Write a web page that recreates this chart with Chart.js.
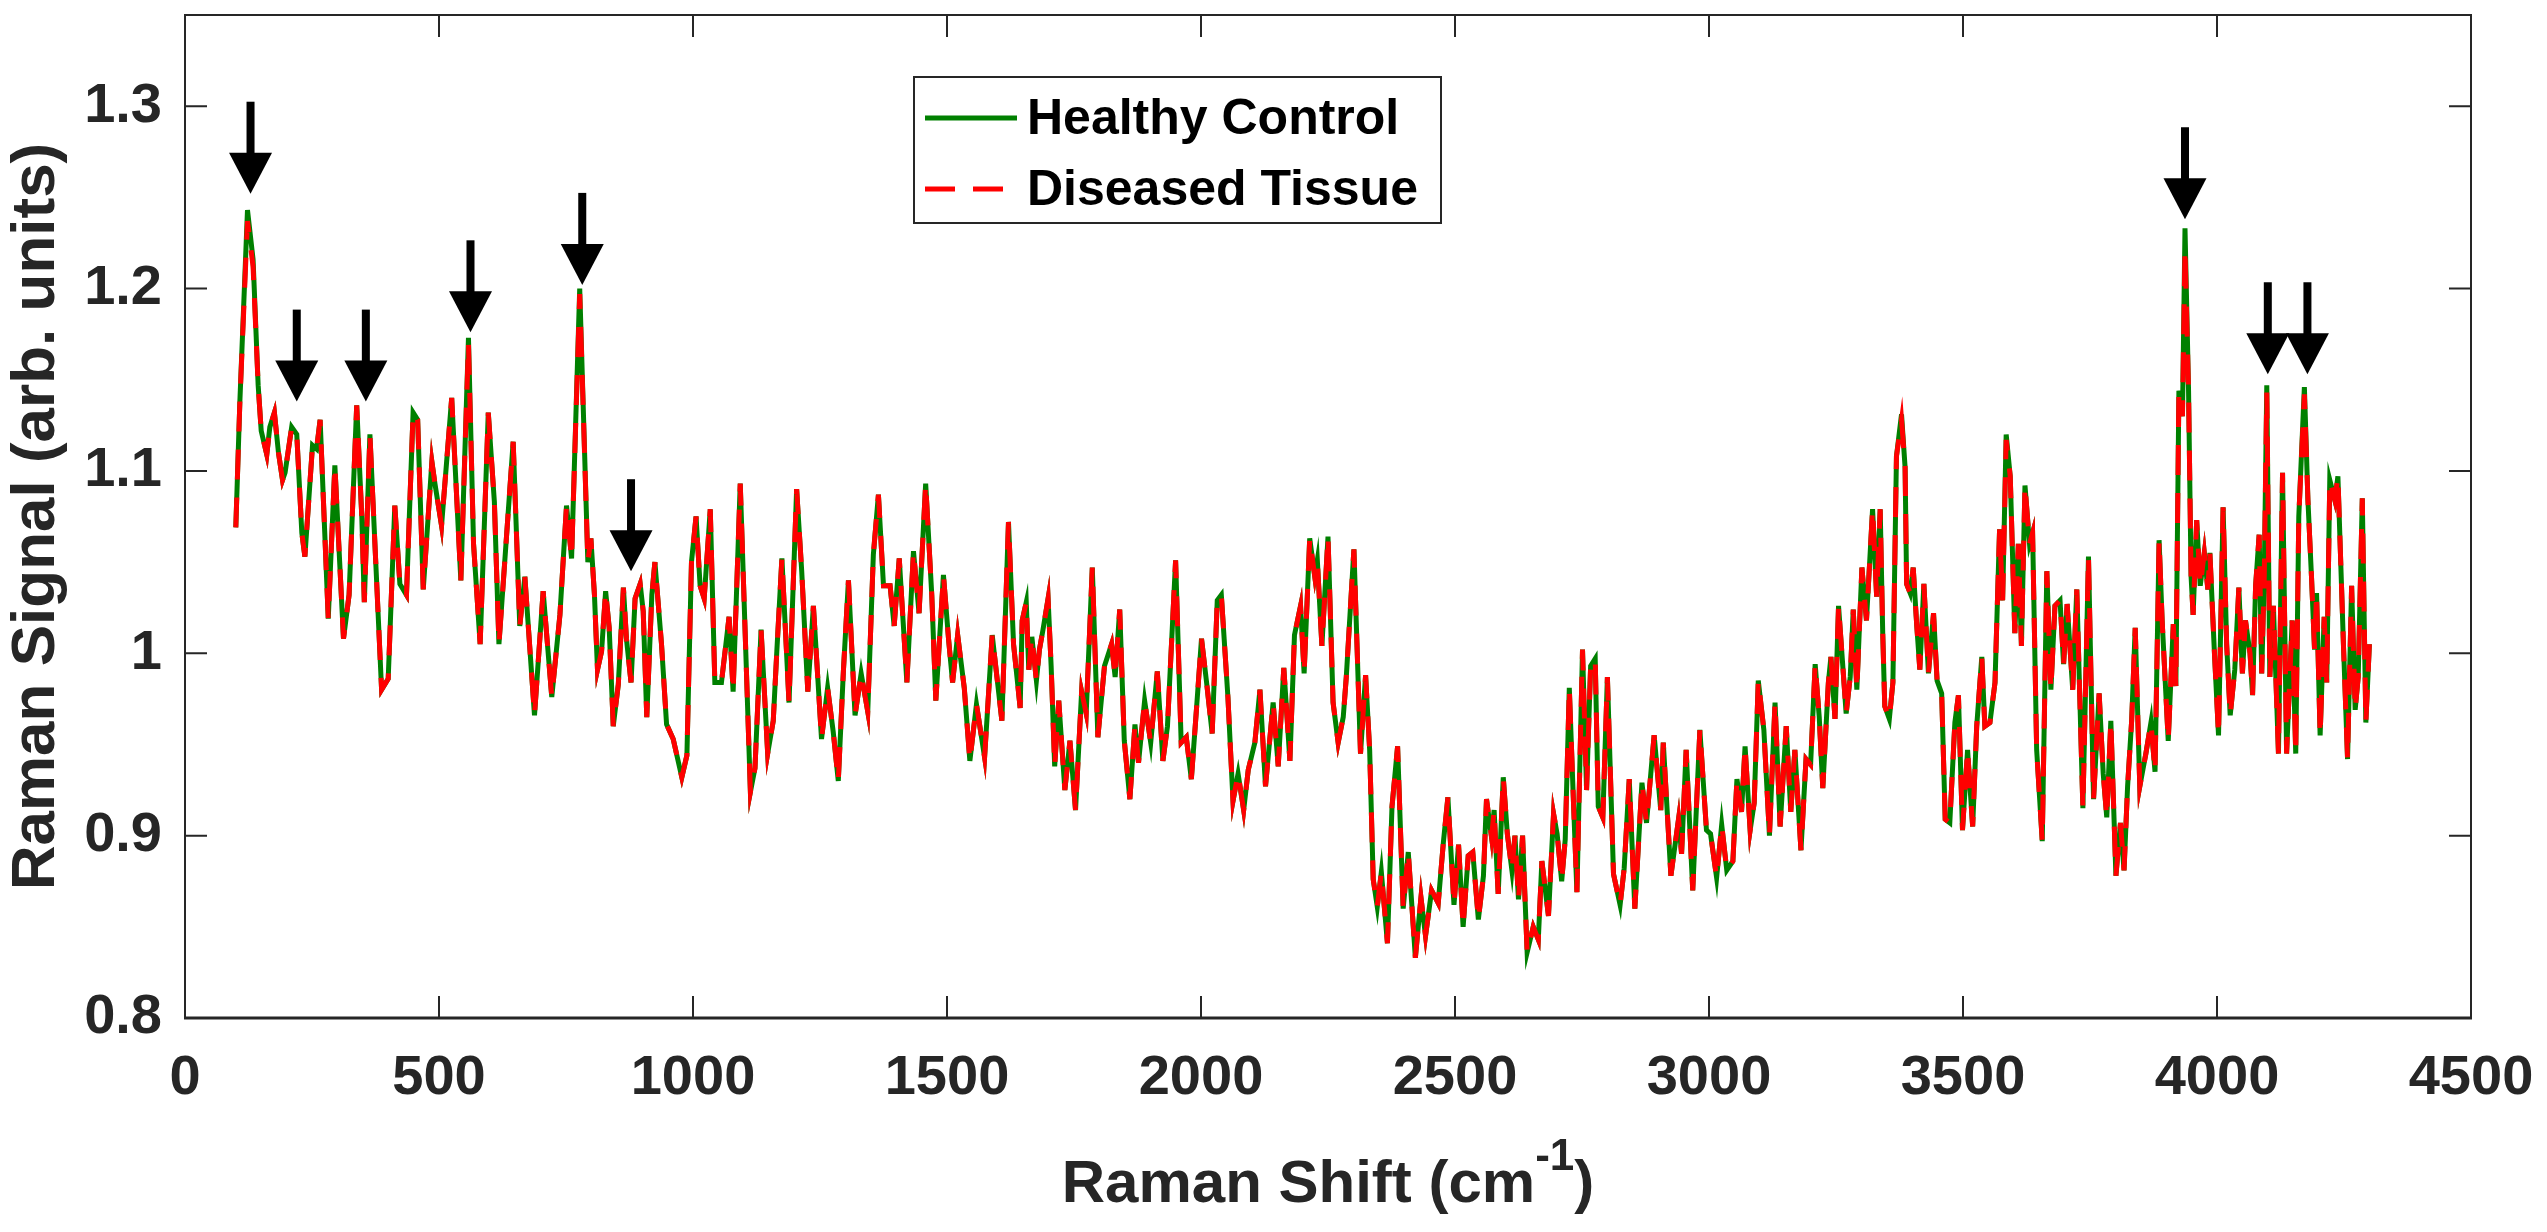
<!DOCTYPE html>
<html>
<head>
<meta charset="utf-8">
<title>Raman spectrum</title>
<script src="https://cdn.jsdelivr.net/npm/chart.js@4.4.1/dist/chart.umd.min.js"></script>
<style>
  html, body { margin: 0; padding: 0; background: #fff; }
  #ramanChart { display: block; }
</style>
</head>
<body>
<canvas id="ramanChart" width="2547" height="1232"></canvas>
<script>
// values
const ramanShift = [
  100, 108, 123, 134, 144, 150, 161, 167, 176, 184,
  192, 197, 210, 220, 230, 236, 251, 259, 266, 282,
  295, 312, 323, 338, 348, 353, 364, 387, 400, 413,
  423, 436, 449, 458, 469, 486, 492, 505, 525, 543,
  558, 568, 581, 597, 609, 618, 646, 659, 669, 688,
  705, 722, 738, 751, 761, 777, 793, 799, 806, 812,
  820, 828, 835, 843, 853, 863, 869, 878, 886, 896,
  902, 909, 919, 925, 938, 948, 961, 978, 988, 997,
  1006, 1014, 1022, 1034, 1043, 1056, 1071, 1079, 1093, 1102,
  1113, 1122, 1134, 1147, 1158, 1165, 1175, 1189, 1204, 1214,
  1226, 1237, 1253, 1265, 1276, 1286, 1296, 1306, 1319, 1331,
  1344, 1355, 1365, 1375, 1388, 1396, 1406, 1421, 1434, 1445,
  1458, 1470, 1478, 1493, 1503, 1511, 1521, 1534, 1545, 1558,
  1574, 1589, 1608, 1621, 1631, 1644, 1648, 1656, 1661, 1667,
  1676, 1682, 1689, 1699, 1705, 1712, 1720, 1732, 1742, 1753,
  1765, 1774, 1786, 1797, 1810, 1824, 1831, 1840, 1849, 1860,
  1870, 1877, 1889, 1901, 1914, 1925, 1934, 1950, 1961, 1971,
  1981, 1991, 2001, 2011, 2022, 2032, 2040, 2053, 2063, 2073,
  2084, 2093, 2106, 2116, 2127, 2142, 2152, 2163, 2175, 2184,
  2196, 2203, 2214, 2224, 2229, 2238, 2250, 2260, 2270, 2280,
  2286, 2301, 2314, 2324, 2332, 2339, 2347, 2355, 2367, 2376,
  2387, 2398, 2408, 2422, 2433, 2442, 2454, 2467, 2477, 2486,
  2498, 2507, 2516, 2526, 2535, 2546, 2556, 2562, 2572, 2577,
  2585, 2595, 2603, 2612, 2618, 2625, 2633, 2642, 2654, 2664,
  2671, 2684, 2694, 2701, 2710, 2717, 2725, 2733, 2740, 2751,
  2759, 2767, 2776, 2782, 2791, 2800, 2812, 2825, 2833, 2843,
  2854, 2868, 2877, 2892, 2905, 2910, 2925, 2940, 2946, 2955,
  2968, 2982, 2995, 3003, 3015, 3025, 3035, 3047, 3055, 3064,
  3071, 3081, 3089, 3097, 3108, 3119, 3130, 3140, 3152, 3161,
  3169, 3181, 3191, 3200, 3209, 3217, 3224, 3235, 3240, 3248,
  3255, 3270, 3278, 3284, 3291, 3301, 3310, 3322, 3330, 3337,
  3342, 3346, 3355, 3362, 3369, 3379, 3386, 3389, 3396, 3402,
  3409, 3415, 3423, 3432, 3442, 3449, 3458, 3465, 3474, 3484,
  3491, 3499, 3509, 3519, 3527, 3537, 3543, 3553, 3563, 3572,
  3578, 3585, 3593, 3602, 3609, 3615, 3622, 3631, 3637, 3645,
  3656, 3665, 3673, 3681, 3691, 3698, 3705, 3716, 3724, 3736,
  3747, 3757, 3768, 3776, 3783, 3791, 3801, 3810, 3817, 3824,
  3832, 3839, 3848, 3860, 3870, 3878, 3886, 3892, 3904, 3914,
  3919, 3925, 3932, 3937, 3944, 3949, 3953, 3960, 3967, 3975,
  3982, 3986, 3995, 4003, 4012, 4019, 4026, 4035, 4043, 4050,
  4056, 4065, 4070, 4076, 4083, 4088, 4093, 4098, 4104, 4111,
  4121, 4129, 4137, 4148, 4155, 4161, 4172, 4179, 4186, 4192,
  4196, 4203, 4211, 4216, 4222, 4232, 4238, 4249, 4257, 4265,
  4272, 4278, 4286, 4293, 4300
];

const healthyControl = [
  1.069, 1.138, 1.243, 1.216, 1.147, 1.122, 1.109, 1.124, 1.132, 1.110,
  1.095, 1.099, 1.124, 1.120, 1.066, 1.053, 1.114, 1.112, 1.128, 1.019,
  1.103, 1.008, 1.032, 1.136, 1.075, 1.028, 1.120, 0.980, 0.986, 1.081,
  1.038, 1.032, 1.132, 1.128, 1.035, 1.105, 1.093, 1.070, 1.140, 1.040,
  1.173, 1.060, 1.005, 1.132, 1.083, 1.005, 1.116, 1.015, 1.042, 0.966,
  1.034, 0.976, 1.021, 1.081, 1.052, 1.200, 1.050, 1.063, 1.032, 0.991,
  1.001, 1.034, 1.014, 0.960, 0.983, 1.036, 1.008, 0.984, 1.030, 1.038,
  1.023, 0.965, 1.032, 1.050, 1.005, 0.961, 0.953, 0.932, 0.944, 1.050,
  1.075, 1.037, 1.030, 1.079, 0.984, 0.984, 1.020, 0.979, 1.093, 1.017,
  0.924, 0.937, 1.013, 0.945, 0.963, 1.001, 1.052, 0.973, 1.090, 1.045,
  0.979, 1.026, 0.953, 0.981, 0.957, 0.930, 0.990, 1.040, 0.966, 0.989,
  0.968, 1.054, 1.087, 1.037, 1.037, 1.015, 1.052, 0.984, 1.056, 1.022,
  1.093, 1.032, 0.974, 1.043, 1.008, 0.984, 1.010, 0.981, 0.941, 0.972,
  0.943, 1.010, 0.963, 1.072, 1.005, 0.970, 1.018, 1.028, 0.991, 1.009,
  0.985, 1.002, 1.013, 1.030, 0.993, 0.938, 0.974, 0.925, 0.952, 0.914,
  0.979, 0.967, 1.047, 0.954, 0.993, 1.005, 0.987, 1.024, 0.952, 0.920,
  0.961, 0.940, 0.974, 0.951, 0.990, 0.941, 0.960, 1.051, 0.951, 0.954,
  0.931, 0.969, 1.008, 0.984, 0.956, 1.029, 1.032, 0.976, 0.919, 0.934,
  0.914, 0.936, 0.951, 0.980, 0.927, 0.973, 0.938, 0.992, 0.941, 1.010,
  1.026, 0.989, 1.063, 1.042, 1.051, 1.004, 1.064, 0.973, 0.951, 0.965,
  0.987, 1.057, 0.945, 0.988, 0.947, 0.876, 0.861, 0.880, 0.841, 0.916,
  0.949, 0.860, 0.891, 0.833, 0.866, 0.845, 0.870, 0.863, 0.896, 0.921,
  0.862, 0.895, 0.850, 0.889, 0.891, 0.854, 0.878, 0.920, 0.899, 0.914,
  0.868, 0.932, 0.901, 0.881, 0.900, 0.865, 0.900, 0.836, 0.850, 0.843,
  0.886, 0.856, 0.912, 0.901, 0.875, 0.898, 0.981, 0.920, 0.869, 1.002,
  0.925, 0.993, 0.997, 0.916, 0.910, 0.987, 0.879, 0.862, 0.882, 0.931,
  0.860, 0.929, 0.907, 0.955, 0.914, 0.951, 0.878, 0.909, 0.890, 0.947,
  0.870, 0.958, 0.903, 0.901, 0.877, 0.906, 0.881, 0.886, 0.931, 0.913,
  0.949, 0.903, 0.918, 0.985, 0.958, 0.900, 0.973, 0.905, 0.960, 0.913,
  0.947, 0.892, 0.942, 0.939, 0.994, 0.965, 0.926, 0.984, 0.998, 0.964,
  1.026, 0.967, 0.987, 1.024, 0.980, 1.047, 1.018, 1.079, 1.031, 1.079,
  1.011, 0.971, 0.964, 0.984, 1.108, 1.131, 1.102, 1.038, 1.033, 1.047,
  1.015, 0.991, 1.038, 0.989, 1.022, 0.985, 0.978, 0.909, 0.907, 0.962,
  0.977, 0.903, 0.947, 0.905, 0.960, 0.998, 0.960, 0.962, 0.984, 1.068,
  1.029, 1.120, 1.097, 1.011, 1.060, 1.004, 1.092, 1.060, 1.066, 0.947,
  0.897, 1.045, 0.980, 1.026, 1.029, 0.994, 1.027, 0.980, 1.035, 0.915,
  1.053, 0.920, 0.978, 0.934, 0.910, 0.963, 0.878, 0.907, 0.881, 0.927,
  0.963, 1.014, 0.927, 0.945, 0.962, 0.935, 1.062, 1.018, 0.952, 1.016,
  0.982, 1.144, 1.130, 1.233, 1.144, 1.042, 1.021, 1.073, 1.037, 1.055,
  1.035, 1.055, 1.000, 0.955, 1.080, 1.005, 0.966, 0.991, 1.036, 0.989,
  1.018, 1.000, 0.977, 1.037, 1.065, 0.989, 1.042, 1.147, 0.987, 1.026,
  0.945, 1.099, 0.945, 1.018, 0.945, 1.075, 1.146, 1.084, 1.042, 1.002,
  1.033, 0.955, 1.020, 0.984, 1.095, 1.084, 1.097, 1.004, 0.942, 1.037,
  0.969, 0.987, 1.085, 0.962, 1.005
];

const diseasedTissue = [
  1.069, 1.138, 1.237, 1.212, 1.147, 1.122, 1.109, 1.124, 1.132, 1.110,
  1.095, 1.099, 1.124, 1.120, 1.066, 1.053, 1.114, 1.112, 1.128, 1.019,
  1.103, 1.008, 1.032, 1.136, 1.075, 1.028, 1.120, 0.980, 0.986, 1.081,
  1.038, 1.032, 1.132, 1.128, 1.035, 1.105, 1.093, 1.070, 1.140, 1.040,
  1.170, 1.060, 1.005, 1.132, 1.083, 1.005, 1.116, 1.015, 1.042, 0.966,
  1.034, 0.976, 1.021, 1.081, 1.052, 1.197, 1.050, 1.063, 1.032, 0.991,
  1.001, 1.034, 1.014, 0.960, 0.983, 1.036, 1.008, 0.984, 1.030, 1.038,
  1.023, 0.965, 1.032, 1.050, 1.005, 0.961, 0.953, 0.932, 0.944, 1.050,
  1.075, 1.037, 1.030, 1.079, 0.984, 0.984, 1.020, 0.979, 1.093, 1.017,
  0.924, 0.937, 1.013, 0.945, 0.963, 1.001, 1.052, 0.973, 1.090, 1.045,
  0.979, 1.026, 0.953, 0.981, 0.957, 0.930, 0.990, 1.040, 0.966, 0.989,
  0.968, 1.054, 1.087, 1.037, 1.037, 1.015, 1.052, 0.984, 1.056, 1.022,
  1.093, 1.032, 0.974, 1.043, 1.008, 0.984, 1.010, 0.981, 0.941, 0.972,
  0.943, 1.010, 0.963, 1.072, 1.005, 0.970, 1.018, 1.028, 0.991, 1.009,
  0.985, 1.002, 1.013, 1.030, 0.993, 0.938, 0.974, 0.925, 0.952, 0.914,
  0.979, 0.967, 1.047, 0.954, 0.993, 1.005, 0.987, 1.024, 0.952, 0.920,
  0.961, 0.940, 0.974, 0.951, 0.990, 0.941, 0.960, 1.051, 0.951, 0.954,
  0.931, 0.969, 1.008, 0.984, 0.956, 1.029, 1.032, 0.976, 0.919, 0.934,
  0.914, 0.936, 0.951, 0.980, 0.927, 0.973, 0.938, 0.992, 0.941, 1.010,
  1.026, 0.989, 1.063, 1.042, 1.051, 1.004, 1.064, 0.973, 0.951, 0.965,
  0.987, 1.057, 0.945, 0.988, 0.947, 0.876, 0.861, 0.880, 0.841, 0.916,
  0.949, 0.860, 0.891, 0.833, 0.866, 0.845, 0.870, 0.863, 0.896, 0.921,
  0.862, 0.895, 0.850, 0.889, 0.891, 0.854, 0.878, 0.920, 0.899, 0.914,
  0.868, 0.932, 0.901, 0.881, 0.900, 0.865, 0.900, 0.836, 0.850, 0.843,
  0.886, 0.856, 0.912, 0.901, 0.875, 0.898, 0.981, 0.920, 0.869, 1.002,
  0.925, 0.993, 0.997, 0.916, 0.910, 0.987, 0.879, 0.862, 0.882, 0.931,
  0.860, 0.929, 0.907, 0.955, 0.914, 0.951, 0.878, 0.909, 0.890, 0.947,
  0.870, 0.958, 0.903, 0.901, 0.877, 0.906, 0.881, 0.886, 0.931, 0.913,
  0.949, 0.903, 0.918, 0.985, 0.958, 0.900, 0.973, 0.905, 0.960, 0.913,
  0.947, 0.892, 0.942, 0.939, 0.994, 0.965, 0.926, 0.984, 0.998, 0.964,
  1.026, 0.967, 0.987, 1.024, 0.980, 1.047, 1.018, 1.079, 1.031, 1.079,
  1.011, 0.971, 0.964, 0.984, 1.108, 1.128, 1.102, 1.038, 1.033, 1.047,
  1.015, 0.991, 1.038, 0.989, 1.022, 0.985, 0.978, 0.909, 0.907, 0.962,
  0.977, 0.903, 0.947, 0.905, 0.960, 0.998, 0.960, 0.962, 0.984, 1.068,
  1.029, 1.117, 1.097, 1.011, 1.060, 1.004, 1.092, 1.060, 1.066, 0.947,
  0.897, 1.045, 0.980, 1.026, 1.029, 0.994, 1.027, 0.980, 1.035, 0.915,
  1.053, 0.920, 0.978, 0.934, 0.910, 0.963, 0.878, 0.907, 0.881, 0.927,
  0.963, 1.014, 0.927, 0.945, 0.962, 0.935, 1.062, 1.018, 0.952, 1.016,
  0.982, 1.144, 1.130, 1.222, 1.144, 1.042, 1.021, 1.073, 1.037, 1.055,
  1.035, 1.055, 1.000, 0.955, 1.080, 1.005, 0.966, 0.991, 1.036, 0.989,
  1.018, 1.000, 0.977, 1.037, 1.065, 0.989, 1.042, 1.143, 0.987, 1.026,
  0.945, 1.099, 0.945, 1.018, 0.945, 1.075, 1.142, 1.084, 1.042, 1.002,
  1.033, 0.955, 1.020, 0.984, 1.095, 1.084, 1.097, 1.004, 0.942, 1.037,
  0.969, 0.987, 1.085, 0.962, 1.005
];

const seriesLabels = ['Healthy Control', 'Diseased Tissue'];

const xTicks = [0, 500, 1000, 1500, 2000, 2500, 3000, 3500, 4000, 4500];
const xTickLabels = ['0', '500', '1000', '1500', '2000', '2500', '3000', '3500', '4000', '4500'];
const yTicks = [0.8, 0.9, 1.0, 1.1, 1.2, 1.3];
const yTickLabels = ['0.8', '0.9', '1', '1.1', '1.2', '1.3'];

// peak markers: where each arrow points (shift, signal at the tip)
const arrowShift = [129, 220, 356, 562, 782, 878, 3937, 4100, 4178];
const arrowTip = [1.252, 1.138, 1.138, 1.176, 1.202, 1.045, 1.238, 1.153, 1.153];

const xTitleParts = ['Raman Shift (cm', '-1', ')'];
const yTitle = 'Raman Signal (arb. units)';

const fontFamily = '"Liberation Sans", Arial, Helvetica, sans-serif';
const axisColor = '#262626';

const frameAndTicks = {
    id: 'frameAndTicks',
    afterDraw(chart) {
        const { ctx, chartArea: a, scales: { x, y } } = chart;
        const tickLen = 22;
        ctx.save();
        ctx.strokeStyle = axisColor;
        ctx.lineWidth = 2;
        ctx.beginPath();
        xTicks.forEach(v => {
            const px = x.getPixelForValue(v);
            ctx.moveTo(px, a.bottom);
            ctx.lineTo(px, a.bottom - tickLen);
            ctx.moveTo(px, a.top);
            ctx.lineTo(px, a.top + tickLen);
        });
        yTicks.forEach(v => {
            const py = y.getPixelForValue(v);
            ctx.moveTo(a.left, py);
            ctx.lineTo(a.left + tickLen, py);
            ctx.moveTo(a.right, py);
            ctx.lineTo(a.right - tickLen, py);
        });
        ctx.stroke();
        ctx.strokeRect(a.left, a.top, a.right - a.left, a.bottom - a.top);
        ctx.lineWidth = 3;
        ctx.beginPath();
        ctx.moveTo(a.left - 1, a.bottom);
        ctx.lineTo(a.right + 1, a.bottom);
        ctx.stroke();

        // x axis title with superscript
        const mainFont = `bold 60px ${fontFamily}`;
        const supFont = `bold 44px ${fontFamily}`;
        ctx.fillStyle = axisColor;
        ctx.textBaseline = 'alphabetic';
        ctx.textAlign = 'left';
        ctx.font = mainFont;
        const w0 = ctx.measureText(xTitleParts[0]).width;
        const w2 = ctx.measureText(xTitleParts[2]).width;
        ctx.font = supFont;
        const w1 = ctx.measureText(xTitleParts[1]).width;
        const baseY = a.bottom + 184;
        let tx = (a.left + a.right) / 2 - (w0 + w1 + w2) / 2;
        ctx.font = mainFont;
        ctx.fillText(xTitleParts[0], tx, baseY);
        tx += w0;
        ctx.font = supFont;
        ctx.fillText(xTitleParts[1], tx, baseY - 32);
        tx += w1;
        ctx.font = mainFont;
        ctx.fillText(xTitleParts[2], tx, baseY);
        ctx.restore();
    }
};

const peakArrows = {
    id: 'peakArrows',
    afterDatasetsDraw(chart) {
        const { ctx, scales: { x, y } } = chart;
        const total = 92, head = 41, headW = 43, shaftW = 8;
        ctx.save();
        ctx.fillStyle = '#000000';
        arrowShift.forEach((s, i) => {
            const px = x.getPixelForValue(s);
            const tip = y.getPixelForValue(arrowTip[i]);
            ctx.fillRect(px - shaftW / 2, tip - total, shaftW, total - head + 1);
            ctx.beginPath();
            ctx.moveTo(px - headW / 2, tip - head);
            ctx.lineTo(px + headW / 2, tip - head);
            ctx.lineTo(px, tip);
            ctx.closePath();
            ctx.fill();
        });
        ctx.restore();
    }
};

const boxedLegend = {
    id: 'boxedLegend',
    afterDraw(chart) {
        const { ctx } = chart;
        const box = { x: 914, y: 77, w: 527, h: 146 };
        const rows = [118, 189];
        ctx.save();
        ctx.fillStyle = '#ffffff';
        ctx.fillRect(box.x, box.y, box.w, box.h);
        ctx.strokeStyle = axisColor;
        ctx.lineWidth = 2;
        ctx.strokeRect(box.x, box.y, box.w, box.h);
        chart.data.datasets.forEach((ds, i) => {
            ctx.strokeStyle = ds.borderColor;
            ctx.lineWidth = ds.borderWidth;
            ctx.setLineDash(ds.borderDash || []);
            ctx.beginPath();
            ctx.moveTo(925, rows[i]);
            ctx.lineTo(1017, rows[i]);
            ctx.stroke();
            ctx.setLineDash([]);
            ctx.fillStyle = '#000000';
            ctx.font = `bold 50px ${fontFamily}`;
            ctx.textBaseline = 'middle';
            ctx.textAlign = 'left';
            ctx.fillText(ds.label, 1027, rows[i] + 2);
        });
        ctx.restore();
    }
};

const ctx = document.getElementById('ramanChart').getContext('2d');

const ramanChart = new Chart(ctx, {
    type: 'line',
    data: {
        datasets: [
            {
                label: seriesLabels[0],
                data: ramanShift.map((s, i) => ({ x: s, y: healthyControl[i] })),
                borderColor: '#008000',
                borderWidth: 5,
                pointRadius: 0,
                tension: 0,
                fill: false,
                order: 1
            },
            {
                label: seriesLabels[1],
                data: ramanShift.map((s, i) => ({ x: s, y: diseasedTissue[i] })),
                borderColor: '#ff0000',
                borderWidth: 5,
                borderDash: [30, 18],
                pointRadius: 0,
                tension: 0,
                fill: false,
                order: 0
            }
        ]
    },
    options: {
        responsive: false,
        animation: false,
        devicePixelRatio: 1,
        layout: {
            padding: { left: 0, top: 15, right: 76, bottom: 0 }
        },
        plugins: {
            legend: { display: false },
            tooltip: { enabled: false }
        },
        scales: {
            x: {
                type: 'linear',
                min: 0,
                max: 4500,
                grid: { display: false, drawTicks: false },
                border: { display: false },
                afterBuildTicks: scale => {
                    scale.ticks = xTicks.map(v => ({ value: v }));
                },
                afterFit: scale => {
                    scale.height = 214;
                    scale.paddingLeft = 0;
                    scale.paddingRight = 0;
                },
                ticks: {
                    autoSkip: false,
                    maxRotation: 0,
                    padding: 27,
                    color: axisColor,
                    font: { family: fontFamily, size: 56, weight: 'bold' },
                    callback: (value, index) => xTickLabels[index]
                }
            },
            y: {
                type: 'linear',
                min: 0.8,
                max: 1.35,
                grid: { display: false, drawTicks: false },
                border: { display: false },
                afterBuildTicks: scale => {
                    scale.ticks = yTicks.map(v => ({ value: v }));
                },
                afterFit: scale => {
                    scale.width = 185;
                    scale.paddingTop = 0;
                    scale.paddingBottom = 0;
                },
                ticks: {
                    padding: 23,
                    color: axisColor,
                    font: { family: fontFamily, size: 56, weight: 'bold' },
                    callback: (value, index) => yTickLabels[index]
                },
                title: {
                    display: true,
                    text: yTitle,
                    color: axisColor,
                    padding: { top: 0, bottom: 0 },
                    font: { family: fontFamily, size: 62, weight: 'bold' }
                }
            }
        }
    },
    plugins: [peakArrows, frameAndTicks, boxedLegend]
});
</script>
</body>
</html>
